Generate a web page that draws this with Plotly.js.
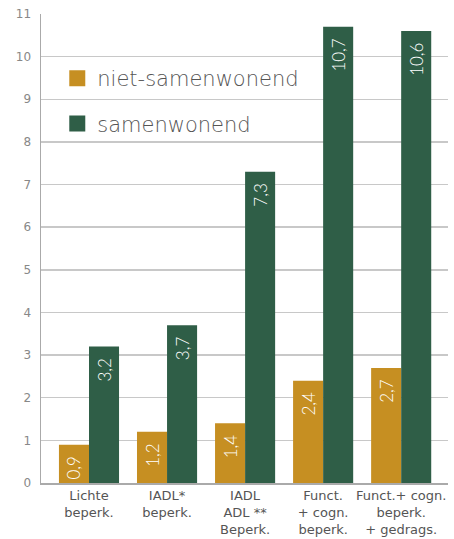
<!DOCTYPE html>
<html><head><meta charset="utf-8">
<script src="https://cdn.plot.ly/plotly-3.0.1.min.js"></script>
<style>body{margin:0}#c{width:454px;height:539px}</style>
</head><body><div id="c"></div>
<script>
var categories = ["Lichte<br>beperk.", "IADL*<br>beperk.", "IADL<br>ADL **<br>Beperk.", "Funct.<br>+ cogn.<br>beperk.", "Funct.+ cogn.<br>beperk.<br>+ gedrags."];
var nietSamenwonend = [0.9, 1.2, 1.4, 2.4, 2.7];
var samenwonend = [3.2, 3.7, 7.3, 10.7, 10.6];
var seriesNames = ["niet-samenwonend", "samenwonend"];
var yTicks = [0,1,2,3,4,5,6,7,8,9,10,11];

function fmt(v){ return v.toFixed(1).replace('.', ',') + '\u2002'; }
var gold = '#C68F22', green = '#2F5E47';
var font = '"DejaVu Sans", sans-serif';
var valFont = 'Lato, sans-serif';
var idx = categories.map(function(_, i){ return i; });

var traces = [
  {type:'bar', x:idx, y:nietSamenwonend, name:seriesNames[0], marker:{color:gold},
   text:nietSamenwonend.map(fmt), textposition:'inside', insidetextanchor:'end', textangle:-90,
   textfont:{color:'#fff', size:17, family:valFont, weight:300}, showlegend:false},
  {type:'bar', x:idx, y:samenwonend, name:seriesNames[1], marker:{color:green},
   text:samenwonend.map(fmt), textposition:'inside', insidetextanchor:'end', textangle:-90,
   textfont:{color:'#fff', size:17, family:valFont, weight:300}, showlegend:false},
  {type:'scatter', mode:'markers', x:[null], y:[null], name:seriesNames[0], legendgroup:'a',
   marker:{symbol:'square', size:16, color:gold}},
  {type:'scatter', mode:'markers', x:[null], y:[null], name:seriesNames[1], legendgroup:'b',
   marker:{symbol:'square', size:16, color:green}}
];

var layout = {
  width:454, height:539,
  margin:{l:41, r:6, t:14, b:56},
  paper_bgcolor:'#fff', plot_bgcolor:'#fff',
  font:{family:font, color:'#555'},
  barmode:'group', bargap:0.23, bargroupgap:0,
  xaxis:{range:[-0.615, 4.6], tickvals:idx, ticktext:categories, showgrid:false,
    showline:true, linecolor:'#aaa', linewidth:1.5, ticks:'', zeroline:false,
    tickfont:{size:13, color:'#555', family:font}, ticklabelstandoff:0},
  yaxis:{range:[0, 11], tickvals:yTicks, showgrid:true, gridcolor:'#c8c8c8', gridwidth:1.5,
    showline:true, linecolor:'#aaa', linewidth:1.5, ticks:'', zeroline:false,
    tickfont:{size:12, color:'#888', family:font}, ticklabelstandoff:6},
  legend:{x:0.04, y:0.906, xanchor:'left', yanchor:'top', bgcolor:'rgba(0,0,0,0)',
    font:{size:21, color:'#555', family:font, weight:300}, tracegroupgap:15, itemwidth:30}
};
Plotly.newPlot('c', traces, layout, {displayModeBar:false, staticPlot:true});
</script></body></html>
